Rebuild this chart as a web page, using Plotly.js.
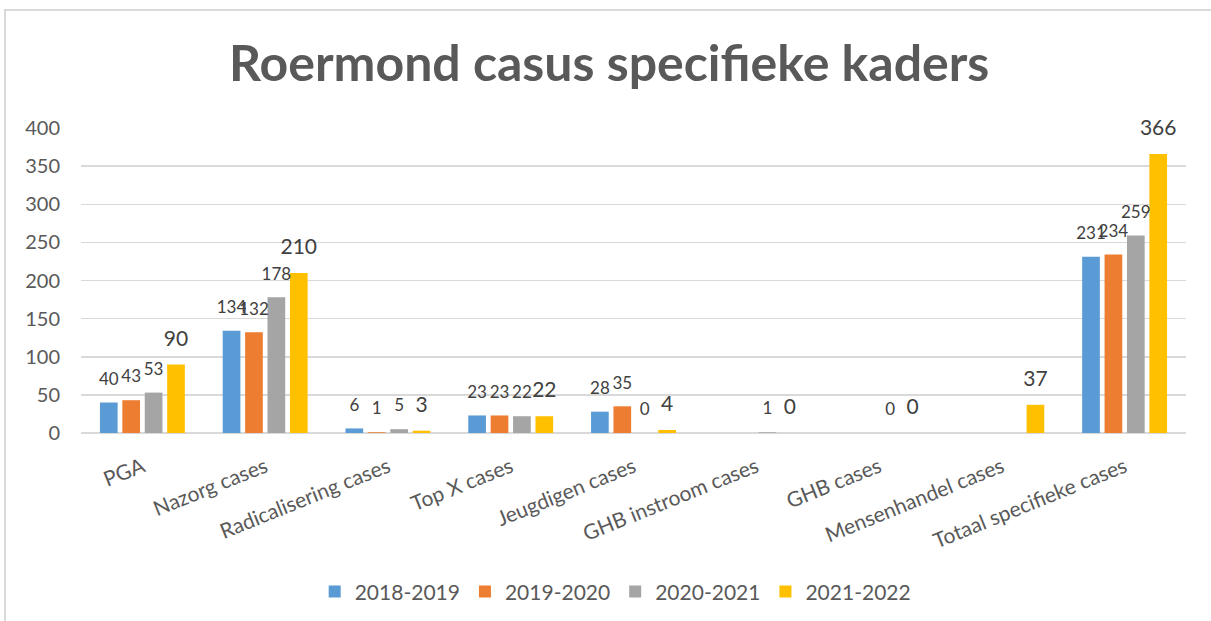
<!DOCTYPE html>
<html>
<head>
<meta charset="utf-8">
<script src="https://cdn.plot.ly/plotly-3.0.1.min.js"></script>
<style>
  html, body { margin: 0; padding: 0; background: #ffffff; }
  #chart { width: 1211px; height: 621px; }
  #frame { position: absolute; left: 4px; top: 9px; width: 1220px; height: 630px;
           border-left: 2px solid #D9D9D9; border-top: 2px solid #D9D9D9; pointer-events: none; }
</style>
</head>
<body>
<div id="chart"></div>
<div id="frame"></div>
<script>
const categories = ['PGA', 'Nazorg cases', 'Radicalisering cases', 'Top X cases', 'Jeugdigen cases',
                    'GHB instroom cases', 'GHB cases', 'Mensenhandel cases', 'Totaal specifieke cases'];
const seriesNames = ['2018-2019', '2019-2020', '2020-2021', '2021-2022'];
const v2018_2019 = [40, 134, 6, 23, 28, null, null, null, 231];
const v2019_2020 = [43, 132, 1, 23, 35, null, null, null, 234];
const v2020_2021 = [53, 178, 5, 22, 0, 1, 0, null, 259];
const v2021_2022 = [90, 210, 3, 22, 4, 0, 0, 37, 366];
const yTicks = [0, 50, 100, 150, 200, 250, 300, 350, 400];

const seriesValues = [v2018_2019, v2019_2020, v2020_2021, v2021_2022];
const colors = ['#5B9BD5', '#ED7D31', '#A5A5A5', '#FFC000'];
const labelSizes = [17, 17, 17, 21];
const FONT = 'Lato, "Open Sans", sans-serif';

const barTraces = seriesValues.map((vals, i) => ({
  type: 'bar',
  name: seriesNames[i],
  x: categories,
  y: vals,
  offsetgroup: String(i),
  marker: { color: colors[i], line: { width: 0 } },
  hoverinfo: 'x+y+name'
}));

const labelTraces = seriesValues.map((vals, i) => ({
  type: 'scatter',
  mode: 'markers+text',
  name: seriesNames[i] + ' labels',
  showlegend: false,
  x: categories,
  y: vals,
  offsetgroup: String(i),
  text: vals.map(v => v === null ? '' : String(v)),
  textposition: 'top center',
  marker: { size: 20, color: 'rgba(0,0,0,0)', line: { width: 0 } },
  cliponaxis: false,
  textfont: { family: FONT, size: labelSizes[i], color: '#404040' },
  hoverinfo: 'skip'
}));

const layout = {
  width: 1211,
  height: 621,
  paper_bgcolor: '#ffffff',
  plot_bgcolor: '#ffffff',
  margin: { l: 81, r: 25, t: 128, b: 188 },
  barmode: 'group',
  bargap: 0.27,
  bargroupgap: 0.21,
  scattermode: 'group',
  scattergap: 0.27,
  font: { family: FONT, color: '#595959' },
  title: {
    text: '<b>Roermond casus specifieke kaders</b>',
    font: { family: FONT, size: 50, color: '#595959' },
    x: 0.503, xref: 'container', xanchor: 'center',
    y: 0.898, yref: 'container', yanchor: 'middle'
  },
  xaxis: {
    type: 'category',
    tickangle: -22,
    tickfont: { family: FONT, size: 21, color: '#595959' },
    showgrid: false,
    showline: false,
    ticks: '',
    ticklabelstandoff: 17
  },
  yaxis: {
    range: [0, 400],
    tickvals: yTicks,
    tickfont: { family: FONT, size: 20, color: '#595959' },
    showgrid: true,
    gridcolor: '#D9D9D9',
    gridwidth: 1.5,
    zeroline: true,
    zerolinecolor: '#D9D9D9',
    zerolinewidth: 1.5,
    showline: false,
    ticks: '',
    ticklabelstandoff: 20,
    fixedrange: true
  },
  legend: {
    orientation: 'h',
    x: 0.508, xref: 'container', xanchor: 'center',
    y: 0.047, yref: 'container', yanchor: 'middle',
    font: { family: FONT, size: 21, color: '#595959' },
    traceorder: 'normal',
    itemwidth: 30
  },
  showlegend: true
};

Plotly.newPlot('chart', barTraces.concat(labelTraces), layout, { displayModeBar: false, staticPlot: true });
</script>
</body>
</html>
